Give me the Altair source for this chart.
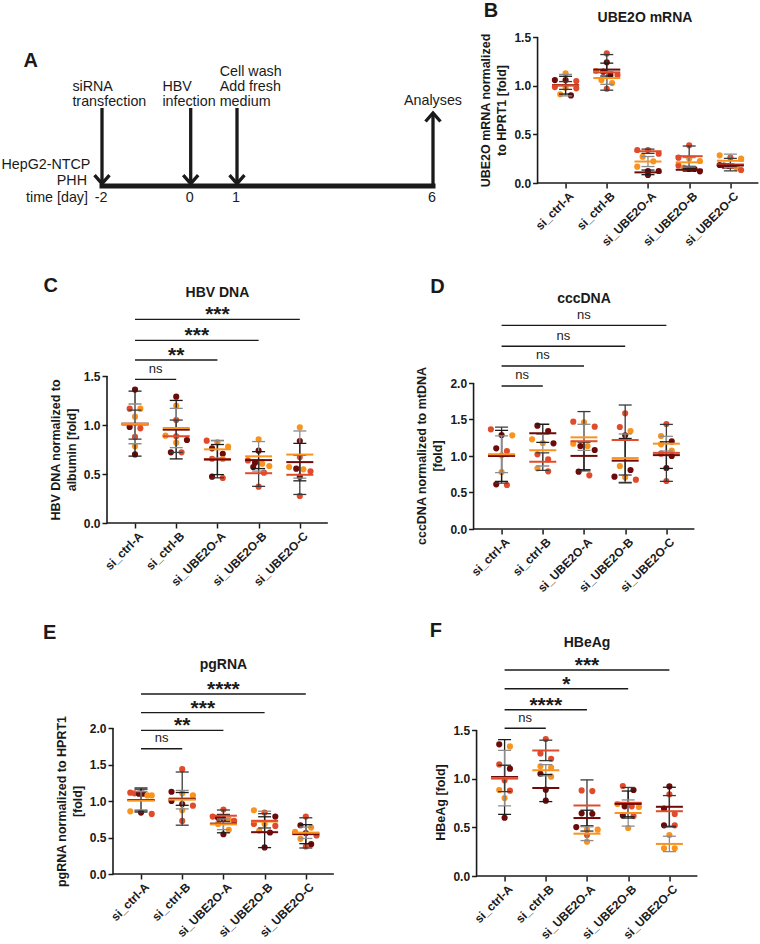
import altair as alt
import pandas as pd

FONT = "Liberation Sans"
INK = "#1a1a1a"

GROUPS = ["si_ctrl-A", "si_ctrl-B", "si_UBE2O-A", "si_UBE2O-B", "si_UBE2O-C"]
SERIES = ["exp1", "exp2", "exp3"]
POINT_COLORS = ["#6d0a0a", "#e04b2b", "#f7931e"]
BAR_COLORS = ["#1c1c1c", "#3a3a3a", "#8c8c8c"]

# Replicates per experiment: one list of three values per siRNA group
UBE2O_MRNA = {
    "exp1": [[1.058, 1.058, 0.900], [1.240, 1.144, 1.113], [0.082, 0.123, 0.123], [0.120, 0.144, 0.144], [0.185, 0.178, 0.175]],
    "exp2": [[1.048, 0.973, 0.986], [1.332, 1.110, 0.969], [0.339, 0.339, 0.301], [0.387, 0.260, 0.180], [0.260, 0.134, 0.175]],
    "exp3": [[1.127, 0.979, 0.911], [1.151, 1.058, 1.027], [0.271, 0.223, 0.168], [0.253, 0.226, 0.158], [0.284, 0.250, 0.151]],
}
HBV_DNA = {
    "exp1": [[1.361, 0.980, 0.700], [1.289, 0.847, 0.721], [0.762, 0.707, 0.473], [0.738, 0.616, 0.571], [0.837, 0.554, 0.473]],
    "exp2": [[1.167, 0.966, 0.878], [1.051, 0.884, 0.721], [0.840, 0.656, 0.459], [0.639, 0.514, 0.371], [0.673, 0.527, 0.276]],
    "exp3": [[1.167, 1.085, 0.782], [1.197, 0.891, 0.820], [0.823, 0.779, 0.653], [0.854, 0.582, 0.605], [0.976, 0.548, 0.571]],
}
CCCDNA = {
    "exp1": [[1.288, 1.105, 0.612], [1.416, 1.342, 1.174], [1.137, 1.082, 0.785], [1.283, 0.808, 0.717], [1.200, 1.000, 0.836]],
    "exp2": [[1.365, 1.068, 0.603], [1.023, 0.954, 0.790], [1.470, 1.402, 0.735], [1.584, 1.397, 0.676], [1.438, 1.032, 0.658]],
    "exp3": [[1.283, 1.009, 0.781], [1.228, 1.178, 0.831], [1.461, 1.137, 1.169], [1.342, 0.863, 0.708], [1.274, 1.160, 1.073]],
}
PGRNA = {
    "exp1": [[1.100, 1.100, 0.841], [1.127, 1.000, 0.959], [0.755, 0.770, 0.545], [0.786, 0.568, 0.364], [0.668, 0.560, 0.409]],
    "exp2": [[1.114, 1.105, 0.823], [1.436, 0.936, 0.727], [0.882, 0.786, 0.727], [0.841, 0.659, 0.686], [0.786, 0.527, 0.377]],
    "exp3": [[1.077, 1.077, 0.859], [1.105, 1.077, 0.873], [0.750, 0.686, 0.605], [0.873, 0.686, 0.595], [0.636, 0.577, 0.482]],
}
HBEAG = {
    "exp1": [[1.353, 1.103, 0.599], [1.051, 0.887, 0.774], [0.644, 0.640, 0.503], [0.884, 0.716, 0.623], [0.921, 0.692, 0.521]],
    "exp2": [[1.147, 0.983, 0.877], [1.408, 1.260, 1.205], [0.880, 0.873, 0.421], [0.925, 0.716, 0.616], [0.839, 0.637, 0.521]],
    "exp3": [[1.332, 0.884, 0.801], [1.113, 1.127, 1.021], [0.476, 0.476, 0.353], [0.740, 0.709, 0.493], [0.421, 0.284, 0.284]],
}

# Comparisons against si_ctrl-A: (target group, label, bar height)
HBV_DNA_SIG = [(1, "ns", 1.466), (2, "**", 1.663), (3, "***", 1.864), (4, "***", 2.078)]
CCCDNA_SIG = [(1, "ns", 1.959), (2, "ns", 2.233), (3, "ns", 2.503), (4, "ns", 2.790)]
PGRNA_SIG = [(1, "ns", 1.716), (2, "**", 1.968), (3, "***", 2.210), (4, "****", 2.466)]
HBEAG_SIG = [(1, "ns", 1.518), (2, "****", 1.709), (3, "*", 1.925), (4, "***", 2.117)]

# Experimental timeline
TIMELINE_DAYS = [-2, 0, 1, 6]
EVENT_DAYS = [-2, 0, 1]
EVENT_TEXT = ["siRNA\ntransfection", "HBV\ninfection", "Cell wash\nAdd fresh\nmedium"]
ANALYSIS_DAY = 6
ANALYSIS_TEXT = "Analyses"
ROW_TEXT = ["HepG2-NTCP", "PHH", "time [day]"]

# ---------------------------------------------------------------- layout
STEP = 41.2               # px between neighbouring groups
AX0, AX1 = -0.68, 4.68    # x-axis extent in group units
DOT = 6.5                 # dot diameter (px) used for the swarm spacing
LANE = 0.26               # horizontal swarm lane width in group units
ROW_GAP = 193
COL_LEFT_GAP = 366.4      # distance between the left edges of the two columns
LABEL_EXPR = "[" + ",".join("'%s'" % g for g in GROUPS) + "][datum.value]"
X_LABEL_SIZE = 12
Y_LABEL_SIZE = 12
AXIS_TITLE_SIZE = 12.5


def swarm(values, unit):
    """Long table of dots with a symmetric beeswarm offset per group."""
    rows = []
    for gi in range(len(GROUPS)):
        pts = [(v, s) for s in SERIES for v in values[s][gi]]
        pts.sort(key=lambda p: -p[0])
        i = 0
        while i < len(pts):
            j = i + 1
            while j < len(pts) and (pts[i][0] - pts[j][0]) * unit < DOT:
                j += 1
            row = pts[i:j]
            n = len(row)
            gap = LANE if n <= 3 else 2 * LANE / (n - 1)
            for k, (v, s) in enumerate(row):
                rows.append({"g": gi, "series": s, "v": v,
                             "xj": gi + (k - (n - 1) / 2) * gap})
            i = j
    return pd.DataFrame(rows)


def assay_panel(values, sig, ymax, geom, ytitle, title, letter):
    shift, height, zero, unit = geom["shift"], geom["height"], geom["zero"], geom["unit"]
    width = shift + (AX1 - AX0) * STEP
    xs = alt.Scale(domain=[AX0 - shift / STEP, AX1], nice=False, zero=False)
    ys = alt.Scale(domain=[(zero - height) / unit, zero / unit], nice=False, zero=False)
    ticks = [i * 0.5 for i in range(int(round(ymax / 0.5)) + 1)]

    xaxis = alt.Axis(values=list(range(len(GROUPS))), labelExpr=LABEL_EXPR, labelAngle=-45,
                     labelAlign="right", labelBaseline="top", labelFont=FONT,
                     labelFontSize=X_LABEL_SIZE, labelFontWeight="bold", labelColor=INK,
                     labelPadding=2, labelOffset=2, labelOverlap=False, labelFlush=False,
                     tickSize=5, tickWidth=1.5, tickColor=INK, domain=False, grid=False,
                     title=None, offset=zero - height)
    yaxis = alt.Axis(values=ticks, format=".1f", labelFont=FONT, labelFontSize=Y_LABEL_SIZE,
                     labelFontWeight="bold", labelColor=INK, labelPadding=2, labelOverlap=False,
                     labelFlush=False, tickSize=5, tickWidth=1.5, tickColor=INK, domain=False,
                     grid=False, title=ytitle, titleFont=FONT, titleFontSize=AXIS_TITLE_SIZE,
                     titleFontWeight="bold", titleColor=INK, titlePadding=5,
                     titleLineHeight=16, offset=-shift)

    # every layer carries the same axis definition so the merged axes stay enabled
    def X(f):
        return alt.X(f, scale=xs, axis=xaxis)

    def Y(f):
        return alt.Y(f, scale=ys, axis=yaxis)

    pts = swarm(values, unit)
    frame = pd.DataFrame({"x0": [AX0], "x1": [AX1], "y0": [0.0], "y1": [ymax]})
    sigdf = pd.DataFrame(sig, columns=["k", "label", "y"])
    sigdf["x0"] = 0
    sigdf["mid"] = sigdf["k"] / 2

    yline = alt.Chart(frame).mark_rule(strokeWidth=1.6, color=INK).encode(
        x=X("x0:Q"), y=Y("y0:Q"), y2="y1:Q")
    xline = alt.Chart(frame).mark_rule(strokeWidth=1.6, color=INK).encode(
        x=X("x0:Q"), x2="x1:Q", y=Y("y0:Q"))

    color = alt.Color("series:N", scale=alt.Scale(domain=SERIES, range=POINT_COLORS), legend=None)
    dots = alt.Chart(pts).mark_circle(size=38, opacity=1).encode(
        x=X("xj:Q"), y=Y("v:Q"), color=color)

    stats = alt.Chart(pts).transform_aggregate(
        m="mean(v)", sd="stdev(v)", groupby=["g", "series"]
    ).transform_calculate(lo="datum.m - datum.sd", hi="datum.m + datum.sd")
    bar_stroke = alt.Stroke("series:N", scale=alt.Scale(domain=SERIES, range=BAR_COLORS), legend=None)
    bar_fill = alt.Fill("series:N", scale=alt.Scale(domain=SERIES, range=BAR_COLORS), legend=None)
    bars = stats.mark_rule(strokeWidth=1.3).encode(
        x=X("g:Q"), y=Y("lo:Q"), y2="hi:Q", stroke=bar_stroke)
    cap_lo = stats.mark_tick(orient="horizontal", size=13, thickness=1.3, opacity=1).encode(
        x=X("g:Q"), y=Y("lo:Q"), fill=bar_fill)
    cap_hi = stats.mark_tick(orient="horizontal", size=13, thickness=1.3, opacity=1).encode(
        x=X("g:Q"), y=Y("hi:Q"), fill=bar_fill)
    means = stats.mark_tick(orient="horizontal", size=27, thickness=2, opacity=1).encode(
        x=X("g:Q"), y=Y("m:Q"), color=color)

    layers = [dots, yline, xline, bars, cap_lo, cap_hi, means]

    if len(sigdf):
        brackets = alt.Chart(sigdf).mark_rule(strokeWidth=1.4, color=INK).encode(
            x=X("x0:Q"), x2="k:Q", y=Y("y:Q"))
        ns = alt.Chart(sigdf).transform_filter("datum.label == 'ns'").mark_text(
            font=FONT, fontSize=13, color=INK, align="center", baseline="alphabetic", dy=-6.6
        ).encode(x=X("mid:Q"), y=Y("y:Q"), text="label:N")
        stars = alt.Chart(sigdf).transform_filter("datum.label != 'ns'").mark_text(
            font=FONT, fontSize=21, fontWeight="bold", color=INK, align="center",
            baseline="alphabetic", dy=2
        ).encode(x=X("mid:Q"), y=Y("y:Q"), text="label:N")
        layers += [brackets, ns, stars]

    head = alt.Chart(pd.DataFrame({"t": [title], "c": [2]})).mark_text(
        font=FONT, fontSize=14, fontWeight="bold", color=INK, align="center",
        baseline="middle", dx=geom.get("title_dx", 0)
    ).encode(x=X("c:Q"), y=alt.value(geom["title_y"]), text="t:N")
    tag = alt.Chart(pd.DataFrame({"t": [letter]})).mark_text(
        font=FONT, fontSize=20, fontWeight="bold", color=INK, align="center", baseline="middle"
    ).encode(x=alt.value(geom["tag"][0]), y=alt.value(geom["tag"][1]), text="t:N")
    layers += [head, tag]

    return alt.layer(*layers).properties(width=width, height=height)


def timeline_panel(width, height):
    # x: days (schematic, not to scale); y: px above the time axis
    xs = alt.Scale(domain=TIMELINE_DAYS, range=[-5.0, 83.7, 130.0, 326.0])
    ys = alt.Scale(domain=[3, 3 + height], nice=False, zero=False)
    text_kw = dict(font=FONT, fontSize=14.3, color=INK)
    line_h = 15

    def X(f):
        return alt.X(f, scale=xs, axis=None)

    def Yd(v):
        return alt.YDatum(v, scale=ys, axis=None)

    chev_down = "M-0.88,-1L0,0L0.88,-1"
    chev_up = "M-0.88,1L0,0L0.88,1"

    axis_line = alt.Chart(pd.DataFrame({"s": [TIMELINE_DAYS[0]], "e": [TIMELINE_DAYS[-1]]})).mark_rule(
        strokeWidth=5, color=INK, strokeCap="square").encode(x=X("s:Q"), x2="e:Q", y=Yd(0))

    ev = pd.DataFrame({"day": EVENT_DAYS, "txt": EVENT_TEXT})
    shafts = alt.Chart(ev).mark_rule(strokeWidth=3.3, color=INK).encode(
        x=X("day:Q"), y=Yd(78), y2=alt.datum(2.3))
    heads = alt.Chart(ev).mark_point(shape=chev_down, size=289, filled=False, strokeWidth=3.3,
                                     color=INK, opacity=1).encode(x=X("day:Q"), y=Yd(2.3))

    an = pd.DataFrame({"day": [ANALYSIS_DAY], "txt": [ANALYSIS_TEXT]})
    an_shaft = alt.Chart(an).mark_rule(strokeWidth=3.3, color=INK).encode(
        x=X("day:Q"), y=Yd(0), y2=alt.datum(73))
    an_head = alt.Chart(an).mark_point(shape=chev_up, size=289, filled=False, strokeWidth=3.3,
                                       color=INK, opacity=1).encode(x=X("day:Q"), y=Yd(73))

    layers = [axis_line, shafts, heads, an_shaft, an_head]

    # multi-line labels: the last line sits just above the arrow shaft
    event_dx = [-29.6, -28.3, -17.3]
    for i, dx in enumerate(event_dx):
        n_lines = EVENT_TEXT[i].count("\n") + 1
        layers.append(alt.Chart(ev.iloc[[i]]).mark_text(
            align="left", baseline="bottom", lineBreak="\n", lineHeight=line_h, dx=dx, **text_kw
        ).encode(x=X("day:Q"), y=Yd(77 + (n_lines - 1) * line_h), text="txt:N"))
    layers.append(alt.Chart(an).mark_text(align="left", baseline="bottom", dx=-29, **text_kw)
                  .encode(x=X("day:Q"), y=Yd(78), text="txt:N"))

    days = pd.DataFrame({"day": TIMELINE_DAYS, "lab": [str(d) for d in TIMELINE_DAYS]})
    layers.append(alt.Chart(days).mark_text(align="center", baseline="middle", dx=-1, **text_kw)
                  .encode(x=X("day:Q"), y=Yd(-11.7), text="lab:N"))

    row_pos = [(-11.6, 21), (-15, 5), (-14, -11.7)]
    for txt, (dx, v) in zip(ROW_TEXT, row_pos):
        layers.append(alt.Chart(pd.DataFrame({"day": [TIMELINE_DAYS[0]], "t": [txt]})).mark_text(
            align="right", baseline="middle", dx=dx, **text_kw
        ).encode(x=X("day:Q"), y=Yd(v), text="t:N"))

    layers.append(alt.Chart(pd.DataFrame({"t": ["A"]})).mark_text(
        font=FONT, fontSize=20, fontWeight="bold", color=INK, align="center", baseline="middle"
    ).encode(x=alt.value(-76.3), y=alt.value(24), text="t:N"))

    return alt.layer(*layers).properties(width=width, height=height)


GEOM_B = {"shift": 64.0, "height": 146, "zero": 146, "unit": 97.3, "title_y": -19, "title_dx": -3, "tag": (17.3, -26.5)}
GEOM_C = {"shift": 0.0, "height": 147, "zero": 147, "unit": 98.0, "title_y": -83, "tag": (-56.3, -90)}
GEOM_D = {"shift": 0.0, "height": 159, "zero": 153, "unit": 73.0, "title_y": -77, "tag": (-36.2, -89)}
GEOM_E = {"shift": 6.0, "height": 146, "zero": 146, "unit": 73.0, "title_y": -63, "tag": (-57.3, -95.5)}
GEOM_F = {"shift": 3.0, "height": 148, "zero": 148, "unit": 97.3, "title_y": -85, "tag": (-37.7, -97)}

col0_width = max(g["shift"] for g in (GEOM_C, GEOM_E)) + (AX1 - AX0) * STEP

panel_a = timeline_panel(col0_width, 146)
panel_b = assay_panel(UBE2O_MRNA, [], 1.5, GEOM_B,
                      ["UBE2O mRNA normalized", "to HPRT1 [fold]"], "UBE2O mRNA", "B")
panel_c = assay_panel(HBV_DNA, HBV_DNA_SIG, 1.5, GEOM_C,
                      ["HBV DNA normalized to", "albumin [fold]"], "HBV DNA", "C")
panel_d = assay_panel(CCCDNA, CCCDNA_SIG, 2.0, GEOM_D,
                      ["cccDNA normalized to mtDNA", "[fold]"], "cccDNA", "D")
panel_e = assay_panel(PGRNA, PGRNA_SIG, 2.0, GEOM_E,
                      ["pgRNA normalized to HPRT1", "[fold]"], "pgRNA", "E")
panel_f = assay_panel(HBEAG, HBEAG_SIG, 1.5, GEOM_F, "HBeAg [fold]", "HBeAg", "F")

chart = alt.concat(
    panel_a, panel_b, panel_c, panel_d, panel_e, panel_f,
    columns=2,
    spacing={"row": ROW_GAP, "column": COL_LEFT_GAP - col0_width},
    bounds="flush",
).properties(
    padding={"left": 1, "top": 0, "right": 0, "bottom": 0}
).configure_view(
    stroke=None
).configure_axis(
    labelFont=FONT, labelFontWeight="bold", titleFont=FONT, titleFontWeight="bold",
)

chart.save("out.html", embed_options={"renderer": "svg", "actions": False})
